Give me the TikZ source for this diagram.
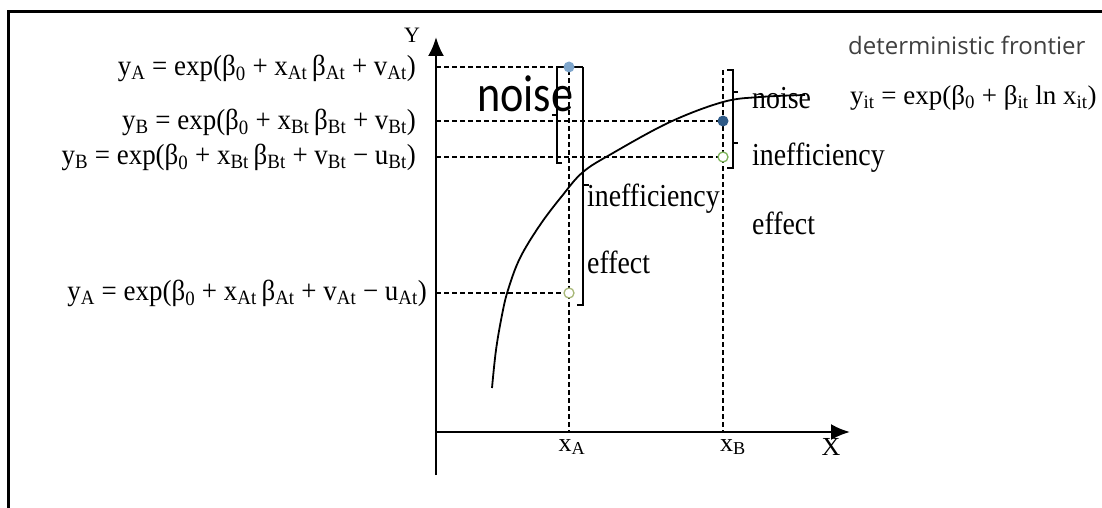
\documentclass[tikz,border=0pt]{standalone}
\usepackage{fontspec}
\setmainfont{Liberation Serif}
\newfontfamily\narrowfont[FakeStretch=0.87]{Liberation Serif}
\newfontfamily\eqfont[FakeStretch=0.93]{Liberation Serif}
\newfontfamily\noisefont[FakeStretch=0.85]{Carlito}
\newfontfamily\frontierfont{Open Sans}
\usetikzlibrary{positioning,arrows.meta}
\newcommand{\sbs}[1]{\textsubscript{#1}}
\definecolor{dotlight}{HTML}{7FA6CC}
\definecolor{dotdark}{HTML}{2E5A87}
\definecolor{ringgreen}{HTML}{7DB35A}
\definecolor{ringolive}{HTML}{A8B878}
\tikzset{
axis/.style={line width=2.4pt},
guide/.style={dash pattern=on 5pt off 3pt,line width=1.3pt},
brk/.style={line width=1.4pt},
eqn/.style={font=\eqfont\fontsize{29}{32}\selectfont,anchor=east,inner sep=0pt},
lbl/.style={font=\narrowfont\fontsize{32}{36}\selectfont,anchor=west,inner sep=0pt},
dot/.style={circle,inner sep=0pt,minimum size=11pt,fill=#1},
ring/.style={circle,inner sep=0pt,minimum size=10pt,draw=#1,line width=1.3pt}
}

\begin{document}
\begin{tikzpicture}[x=1pt,y=-1pt,>={Latex[length=19pt,width=16pt]}]
\useasboundingbox (0,0) rectangle (1102,508);
\draw[line width=3pt] (1102,12) -- (8,12) -- (8,508);

% axes
\coordinate (O) at (436,432);
\coordinate (ytip) at (436,37);
\coordinate (xtip) at (850,432);
\coordinate (ybot) at (436,475);
\draw[axis,->] (ybot) -- (ytip);
\draw[axis,->] (O) -- (xtip);

% observed and frontier points
\coordinate (A1) at (569,67);
\coordinate (A2) at (569,293);
\coordinate (B1) at (723,121);
\coordinate (B2) at (723,157);
\coordinate (Btop) at (723,70);

\draw[guide] (A1 -| O) -- (A1) -- (A1 |- O);
\draw[guide] (A2 -| O) -- (A2);
\draw[guide] (B1 -| O) -- (B1);
\draw[guide] (B2 -| O) -- (B2);
\draw[guide] (Btop) -- (Btop |- O);

% brackets
\draw[brk] (583,67) -- (557,67) -- (557,163) -- (562,163);
\draw[brk] (557,115) -- (552,115);
\draw[brk] (583,67) -- (583,305) -- (577,305);
\draw[brk] (583,185) -- (589,185);
\draw[brk] (727,70) -- (733,70) -- (733,168) -- (727,168);
\draw[brk] (733,92) -- (738,92);
\draw[brk] (733,143) -- (738,143);

% equations
\node[eqn] (eqA) at (416,68) {y\sbs{A} = exp(β\sbs{0} + x\sbs{At}\,β\sbs{At} + v\sbs{At})};
\node[eqn] (eqB) at (416,122) {y\sbs{B} = exp(β\sbs{0} + x\sbs{Bt}\,β\sbs{Bt} + v\sbs{Bt})};
\node[eqn] (eqBu) at (416,157) {y\sbs{B} = exp(β\sbs{0} + x\sbs{Bt}\,β\sbs{Bt} + v\sbs{Bt} − u\sbs{Bt})};
\node[eqn] (eqAu) at (427,293) {y\sbs{A} = exp(β\sbs{0} + x\sbs{At}\,β\sbs{At} + v\sbs{At} − u\sbs{At})};

% labels
\node[inner sep=0pt,font=\fontsize{22}{24}\selectfont] (ylab) at (412,35) {Y};
\node[inner sep=0pt,font=\fontsize{26}{28}\selectfont] (xlab) at (831,447) {X};
\node[inner sep=0pt,font=\fontsize{26}{28}\selectfont] (xA) at (572,447) {x\sbs{A}};
\node[inner sep=0pt,font=\fontsize{26}{28}\selectfont] (xB) at (733,447) {x\sbs{B}};

\node[lbl,font=\noisefont\fontsize{52}{56}\selectfont] (bignoise) at (477,94) {noise};
\node[lbl] (noiseB) at (752,98) {noise};
\node[lbl] (ineffB) at (752,158) {inefficiency};
\node[lbl] (effB) at (752,223) {effect};
\node[lbl] (ineffA) at (587,199) {inefficiency};
\node[lbl] (effA) at (587,262) {effect};

\node[lbl,font=\frontierfont\fontsize{24}{28}\selectfont,text=black!75] (detf) at (848,45) {deterministic frontier};
\node[lbl,font=\fontsize{27}{30}\selectfont] (front) at (850,98) {y\sbs{it} = exp(β\sbs{0} + β\sbs{it} ln x\sbs{it})};

% frontier curve
\draw[line width=1.8pt] plot[smooth,tension=0.6] coordinates {(492,388) (496,350) (502,315) (508,290) (520,258) (540,225) (562,196) (583,172) (613,153) (670,122) (723,102) (760,97) (805,95)};

\node[dot=dotlight] (pA1) at (A1) {};
\node[dot=dotdark] (pB1) at (B1) {};
\node[ring=ringgreen,fill=white] (pB2) at (B2) {};
\node[ring=ringolive,fill=white] (pA2) at (A2) {};
\end{tikzpicture}
\end{document}
